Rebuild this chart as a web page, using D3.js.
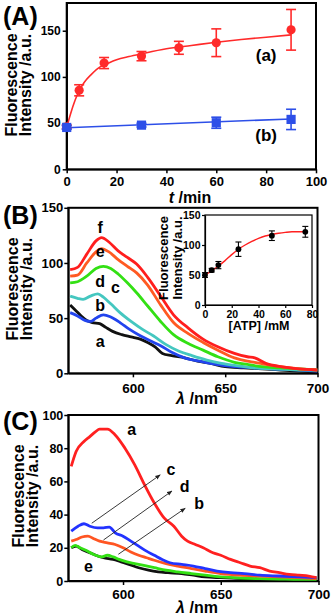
<!DOCTYPE html>
<html><head><meta charset="utf-8">
<script src="https://cdn.jsdelivr.net/npm/d3@7"></script>
<style>
body{margin:0;background:#fff}
svg{display:block}
text{font-family:"Liberation Sans",Arial,sans-serif;font-weight:bold;fill:#000}
</style>
</head><body>
<svg id="c" width="332" height="616"></svg>
<script>
// ---------- Panel A data ----------
const timeA = [0, 5, 15, 30, 45, 60, 90];
const intensityA_a = [46, 85.5, 115, 122.5, 131.5, 137, 151];
const errorA_a = [2, 6, 6, 5, 7, 15, 22];
const timeA_b = [0, 30, 60, 90];
const intensityA_b = [45.3, 47.8, 50.4, 54];
const errorA_b = [2, 2, 6, 11];
const fitTimeA_a = [0, 1, 2, 3, 4, 5, 7, 10, 13.4, 16, 20, 25, 30, 40, 50, 60, 70, 80, 90];
const fitA_a = [45, 55, 64, 72, 79, 85, 94, 103, 110.8, 114, 118.5, 122, 125, 130.5, 134, 137.5, 140.5, 143, 145.5];
const fitTimeA_b = [0, 90];
const fitA_b = [45, 54.5];
const xTicksA = [0, 20, 40, 60, 80, 100];
const yTicksA = [0, 50, 100, 150];

// ---------- Panel B data (spectra) ----------
const wlB_f = [566,570,575,580,583,587,592,597,602,608,615,622,630,638,646,655,662,666,672,680,690,700];
const intB_f = [94,96,108,120,123,119,111,105,99,87,70,53,41,31,24,18,15,14,9,6,4,3];
const wlB_e = [566,570,575,580,583,587,592,597,602,608,615,622,630,638,646,655,662,666,672,680,690,700];
const intB_e = [88,89,100,110,113,110,103,97,91,80,62,46,36,28,21,14,11,10,8,6,4,3];
const wlB_d = [566,570,575,580,584,588,592,597,602,608,615,622,630,638,646,655,662,670,680,690,700];
const intB_d = [82,83,88,95,97,95,90,82,73,61,47,35,27,21,15,10,8,6,5,4,3];
const wlB_c = [566,570,573,577,581,584,588,593,599,605,611,618,625,632,640,648,656,665,675,690,700];
const intB_c = [70,68,67,70,72,69,63,55,47,40,34,26,20,16,12,9,7,5,4,3,3];
const wlB_b = [566,570,574,577,580,584,588,593,598,604,610,615,621,628,636,645,655,665,675,690,700];
const intB_b = [55,52,48,47,50,53,51,46,40,34,29,25,19,14,11,8,6,5,4,3,2];
const wlB_a = [566,569,572,575,578,582,585,589,594,599,604,608,612,616,621,628,635,642,650,660,670,680,690,700];
const intB_a = [62,57,52,48,46,45,42,38,35,33,31,28,24,18,16,14,11,9,6,5,4,3,2,1];
const xTicksB = [600, 650, 700];
const yTicksB = [0, 50, 100, 150];

// ---------- Panel B inset data ----------
const atpConc = [0, 5, 10, 25, 50, 75];
const atpIntensity = [50, 58, 66.5, 93, 115.5, 122];
const atpError = [4, 3, 6, 12, 8, 9];
const fitAtpConc = [0, 5, 10, 15, 20, 25, 30, 35, 40, 45, 50, 55, 60, 65, 70, 75];
const fitAtp = [50, 57, 65, 74, 84, 93, 100, 106, 111, 115, 117.5, 119.5, 121, 122, 122, 122];
const xTicksInset = [0, 20, 40, 60, 80];
const yTicksInset = [0, 50, 100, 150];

// ---------- Panel C data (spectra) ----------
const wlC_a = [573.5,576,580,583,586,588,592,596,601,606,611,616,621,626,630,633,637,641,646,650,655,660,665,670,675,680,685,690,695,699];
const intC_a = [69,78,84,87,90,91.5,91.5,88,80,70,58,47,38,33,27,24,22,20,17,15.5,13,11,9,8,6,5,4,3.5,3,2];
const wlC_c = [573.5,577,580,583,587,590,593,596,600,604,608,612,616,620,624,630,636,642,648,655,662,670,680,690,699];
const intC_c = [30,33,34.5,33,32,32,32.5,29,27,24,21,18,15.5,13,11,10,9,7.5,6,5,4.5,3.5,3,2.5,2];
const wlC_d = [573.5,576,579,582,585,588,592,596,600,604,608,612,616,622,628,635,642,650,660,670,680,690,699];
const intC_d = [24,25,26.5,27,25.5,24,23,22,20,17.5,15.5,14,12.5,10.5,9,7.5,6,4.5,3.5,3,2.5,2,1.5];
const wlC_b = [573.5,575.5,578,581,585,589,592,595,598,602,606,610,616,622,628,635,642,650,660,670,680,690,699];
const intC_b = [20,21.5,20,18.5,16,14.5,15.5,14.5,13,11.5,10.5,9.5,8,6.5,5.5,4.5,3.5,2.5,1.8,1.4,1.2,1,1];
const wlC_e = [573.5,576,579,582,586,590,595,599,603,608,613,618,623,630,636,642,650,660,670,680,690,699];
const intC_e = [20,21,19,17.5,15.5,14,13,11.5,10,8,6.5,5.5,5,4.5,3.5,2.5,2,1.5,1,1,0.8,0.8];
const xTicksC = [600, 650, 700];
const yTicksC = [0, 20, 40, 60, 80, 100];

// arrows in C: [fromWl, fromInt, toWl, toInt]
const arrowsC = [[584, 34.8, 619, 63.9], [590, 24.7, 625, 54.2], [597.6, 16.1, 631.8, 43.8]];

// ---------- drawing ----------
const svg = d3.select("#c");
svg.append("defs").append("marker")
  .attr("id","arr").attr("viewBox","0 0 10 10").attr("refX",9).attr("refY",5)
  .attr("markerWidth",6).attr("markerHeight",6).attr("orient","auto")
  .append("path").attr("d","M0,1 L10,5 L0,9 z").attr("fill","#222");

function frame(g, x, y) {
  const [x0,x1] = x.range(), [y0,y1] = y.range();
  g.append("rect").attr("x",x0).attr("y",y1).attr("width",x1-x0).attr("height",y0-y1)
    .attr("fill","none").attr("stroke","#000").attr("stroke-width",2);
}
function axes(g, x, y, xt, yt, o) {
  const ax = g.append("g").attr("transform",`translate(0,${y.range()[0]})`)
    .call(d3.axisBottom(x).tickValues(xt).tickSize(o.ts).tickPadding(o.xpad).tickSizeOuter(0));
  ax.selectAll("text").style("font-size",o.xfs+"px");
  const ay = g.append("g").attr("transform",`translate(${x.range()[0]},0)`)
    .call(d3.axisLeft(y).tickValues(yt).tickSize(o.ts).tickPadding(o.ypad).tickSizeOuter(0));
  ay.selectAll("text").style("font-size",o.yfs+"px");
  [ax, ay].forEach(a => { a.selectAll("line").attr("stroke","#000").attr("stroke-width",o.sw);
    a.select(".domain").attr("stroke","#000").attr("stroke-width",o.sw); a.selectAll("text").attr("fill","#000"); });
}
function yTitle(g, x1, x2, yc, fs) {
  g.append("text").attr("transform",`translate(${x1},${yc}) rotate(-90)`).attr("text-anchor","middle")
    .style("font-size",fs+"px").text("Fluorescence");
  g.append("text").attr("transform",`translate(${x2},${yc}) rotate(-90)`).attr("text-anchor","middle")
    .style("font-size",fs+"px").text("Intensity /a.u.");
}
function line(g, x, y, xs, ys, color, w) {
  g.append("path").datum(xs.map((d,i)=>[d, ys[i]]))
    .attr("d", d3.line().x(d=>x(d[0])).y(d=>y(d[1])).curve(d3.curveMonotoneX))
    .attr("fill","none").attr("stroke",color).attr("stroke-width",w).attr("stroke-linejoin","round");
}
function errBars(g, x, y, xs, ys, es, color, cap, w) {
  xs.forEach((t,i) => {
    const cx = x(t), yt = y(ys[i]+es[i]), yb = y(ys[i]-es[i]);
    g.append("line").attr("x1",cx).attr("x2",cx).attr("y1",yt).attr("y2",yb).attr("stroke",color).attr("stroke-width",w);
    g.append("line").attr("x1",cx-cap).attr("x2",cx+cap).attr("y1",yt).attr("y2",yt).attr("stroke",color).attr("stroke-width",w);
    g.append("line").attr("x1",cx-cap).attr("x2",cx+cap).attr("y1",yb).attr("y2",yb).attr("stroke",color).attr("stroke-width",w);
  });
}
function label(g, x, y, px, py, txt, fs) {
  g.append("text").attr("x",x(px)).attr("y",y(py)).attr("text-anchor","middle")
    .attr("dominant-baseline","central").style("font-size",fs+"px").text(txt);
}

// ---- Panel A ----
{
  const g = svg.append("g");
  const x = d3.scaleLinear([0,100],[66.7,316]);
  const y = d3.scaleLinear([0,180],[169.3,3]);
  frame(g, x, y);
  axes(g, x, y, xTicksA, yTicksA, {ts:4, xpad:3, ypad:2, xfs:13, yfs:12, sw:1.5});
  line(g, x, y, fitTimeA_a, fitA_a, "#ff2a2a", 1.6);
  line(g, x, y, fitTimeA_b, fitA_b, "#2d4fe8", 1.6);
  errBars(g, x, y, timeA, intensityA_a, errorA_a, "#ff2a2a", 5, 1.6);
  errBars(g, x, y, timeA_b, intensityA_b, errorA_b, "#2d4fe8", 5, 1.6);
  g.selectAll(".dotA").data(timeA).enter().append("circle")
    .attr("cx",d=>x(d)).attr("cy",(d,i)=>y(intensityA_a[i])).attr("r",4.6).attr("fill","#ff2a2a");
  g.selectAll(".sqA").data(timeA_b).enter().append("rect")
    .attr("x",d=>x(d)-4.6).attr("y",(d,i)=>y(intensityA_b[i])-4.6).attr("width",9.2).attr("height",9.2).attr("fill","#2d4fe8");
  label(g, x, y, 80, 123.5, "(a)", 17);
  label(g, x, y, 80, 37, "(b)", 17);
  yTitle(g, 17, 31, 85, 16);
  g.append("text").attr("x",190).attr("y",202.5).attr("text-anchor","middle").style("font-size","16px")
    .html('<tspan font-style="italic">t</tspan> /min');
  g.append("text").attr("x",3).attr("y",25).style("font-size","25px").text("(A)");
}

// ---- Panel B ----
{
  const g = svg.append("g");
  const x = d3.scaleLinear([565,700],[68.3,317.5]);
  const y = d3.scaleLinear([0,150],[373.3,207.8]);
  frame(g, x, y);
  axes(g, x, y, xTicksB, yTicksB, {ts:4, xpad:6, ypad:1, xfs:13.5, yfs:13, sw:1.5});
  g.append("clipPath").attr("id","clipB").append("rect")
    .attr("x",x.range()[0]).attr("y",y.range()[1]).attr("width",x.range()[1]-x.range()[0]).attr("height",y.range()[0]-y.range()[1]);
  const cg = g.append("g").attr("clip-path","url(#clipB)");
  line(cg, x, y, wlB_a, intB_a, "#111111", 2.8);
  line(cg, x, y, wlB_b, intB_b, "#2244ee", 2.8);
  line(cg, x, y, wlB_c, intB_c, "#45c7c0", 2.8);
  line(cg, x, y, wlB_d, intB_d, "#33e014", 2.8);
  line(cg, x, y, wlB_e, intB_e, "#ff5a22", 2.8);
  line(cg, x, y, wlB_f, intB_f, "#ff1e1e", 2.8);
  label(g, x, y, 582.3, 132.5, "f", 16);
  label(g, x, y, 582.3, 110, "e", 16);
  label(g, x, y, 582.3, 83, "d", 16);
  label(g, x, y, 590.5, 78, "c", 16);
  label(g, x, y, 582.3, 61.5, "b", 16);
  label(g, x, y, 582.3, 28.5, "a", 16);
  yTitle(g, 18, 32, 289, 16);
  g.append("text").attr("x",197).attr("y",404).attr("text-anchor","middle").style("font-size","16px")
    .html('<tspan font-style="italic">λ</tspan> /nm');
  g.append("text").attr("x",3).attr("y",224).style("font-size","25px").text("(B)");

  // inset
  const xi = d3.scaleLinear([0,80],[205,312]);
  const yi = d3.scaleLinear([0,150],[305,215]);
  g.append("rect").attr("x",205).attr("y",215).attr("width",107).attr("height",90).attr("fill","#fff");
  g.append("rect").attr("x",xi.range()[0]).attr("y",yi.range()[1]).attr("width",xi.range()[1]-xi.range()[0])
    .attr("height",yi.range()[0]-yi.range()[1]).attr("fill","none").attr("stroke","#000").attr("stroke-width",1.2);
  axes(g, xi, yi, xTicksInset, yTicksInset, {ts:3, xpad:3, ypad:1.5, xfs:10.5, yfs:10.5, sw:1.2});
  line(g, xi, yi, fitAtpConc, fitAtp, "#ff2020", 1.4);
  errBars(g, xi, yi, atpConc, atpIntensity, atpError, "#000", 3, 1.1);
  g.selectAll(".dotI").data(atpConc).enter().append("circle")
    .attr("cx",d=>xi(d)).attr("cy",(d,i)=>yi(atpIntensity[i])).attr("r",2.9).attr("fill","#000");
  yTitle(g, 168, 182, 258, 13);
  g.append("text").attr("x",259).attr("y",330).attr("text-anchor","middle").style("font-size","12.5px").text("[ATP] /mM");
}

// ---- Panel C ----
{
  const g = svg.append("g");
  const x = d3.scaleLinear([572,700],[68.3,318.5]);
  const y = d3.scaleLinear([0,100],[581,415]);
  frame(g, x, y);
  axes(g, x, y, xTicksC, yTicksC, {ts:4, xpad:4.5, ypad:1, xfs:13.5, yfs:12.5, sw:1.5});
  line(g, x, y, wlC_e, intC_e, "#111111", 2.8);
  line(g, x, y, wlC_b, intC_b, "#33e014", 2.8);
  line(g, x, y, wlC_d, intC_d, "#ff5522", 2.8);
  line(g, x, y, wlC_c, intC_c, "#2233ff", 2.8);
  line(g, x, y, wlC_a, intC_a, "#ff2020", 2.8);
  arrowsC.forEach(a => {
    g.append("line").attr("x1",x(a[0])).attr("y1",y(a[1])).attr("x2",x(a[2])).attr("y2",y(a[3]))
      .attr("stroke","#222").attr("stroke-width",0.9).attr("marker-end","url(#arr)");
  });
  label(g, x, y, 604.5, 91, "a", 16);
  label(g, x, y, 624.5, 67, "c", 16);
  label(g, x, y, 631.5, 57, "d", 16);
  label(g, x, y, 639, 46.5, "b", 16);
  label(g, x, y, 582.3, 8.6, "e", 16);
  yTitle(g, 24, 38, 496, 16);
  g.append("text").attr("x",197).attr("y",613).attr("text-anchor","middle").style("font-size","16px")
    .html('<tspan font-style="italic">λ</tspan> /nm');
  g.append("text").attr("x",3).attr("y",430).style("font-size","25px").text("(C)");
}
</script>
</body></html>
